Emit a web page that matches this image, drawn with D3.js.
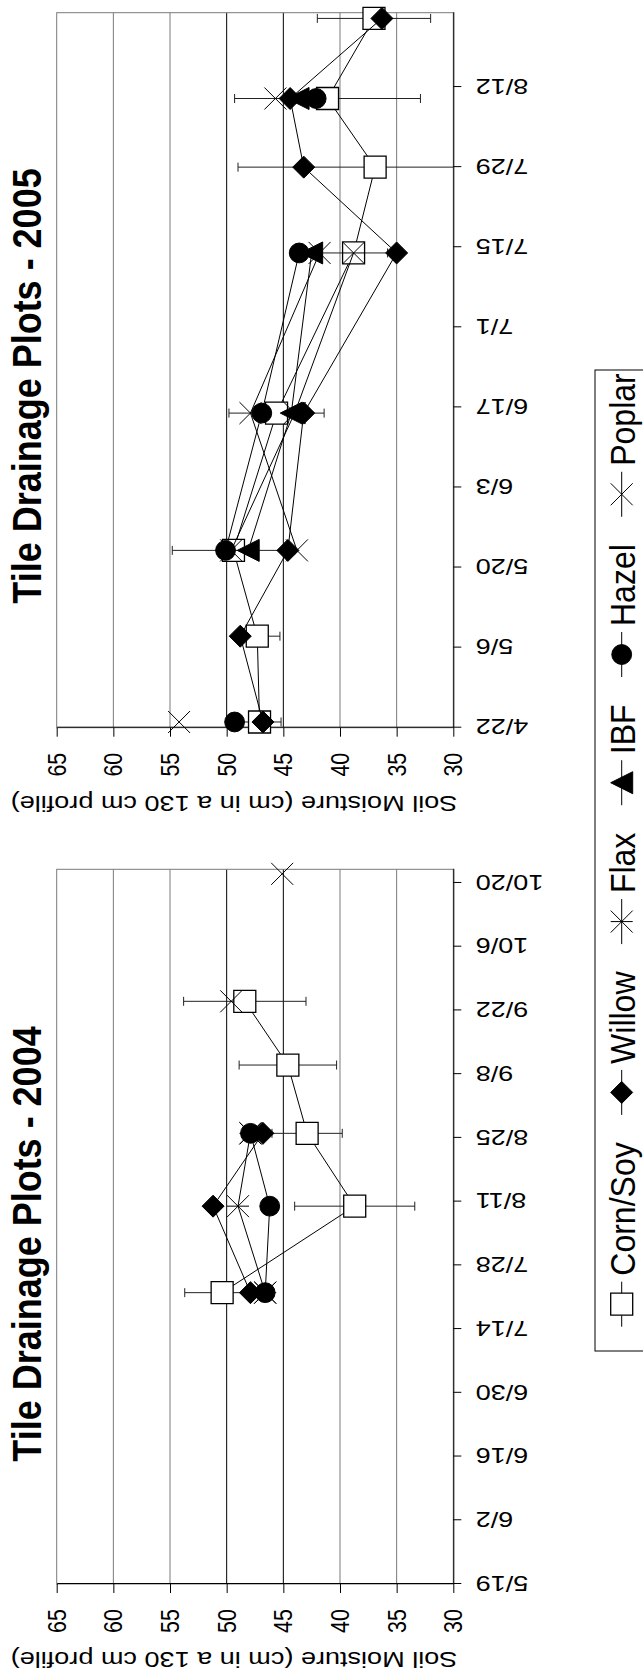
<!DOCTYPE html>
<html>
<head>
<meta charset="utf-8">
<script src="https://cdn.jsdelivr.net/npm/d3@7"></script>
<style>
  body { margin: 0; background: #fff; }
  svg { display: block; }
  text { font-family: "Liberation Sans", Arial, sans-serif; fill: #000; }
</style>
</head>
<body>
<svg id="chart" width="643" height="1676"></svg>
<script>
// ---- data (soil moisture, cm in a 130 cm profile) ----
// a row where every value is null breaks the lines, as blank rows do in the source sheet
const dates2004 = ["2004-07-22", "2004-08-10", "2004-08-26", "2004-09-10", "2004-09-24", "2004-10-08", "2004-10-22"];
const cornSoy2004 = [50.4, 38.7, 42.9, 44.6, 48.4, null, null];
const cornSoyErr2004 = [3.3, 5.3, 3.1, 4.3, 5.4, null, null];
const willow2004 = [47.9, 51.2, 46.8, null, null, null, null];
const flax2004 = [46.6, 49.0, 47.9, null, null, null, null];
const ibf2004 = [null, null, null, null, null, null, null];
const hazel2004 = [46.6, 46.2, 47.9, null, null, null, null];
const poplar2004 = [46.6, null, 47.9, null, 49.6, null, 45.1];

const dates2005 = ["2005-04-23", "2005-05-08", "2005-05-23", "2005-06-16", "2005-07-14", "2005-07-29", "2005-08-10", "2005-08-24"];
const cornSoy2005 = [47.1, 47.3, 49.4, 45.6, 38.8, 36.9, 41.1, 37.0];
const cornSoyErr2005 = [1.9, 2.0, 5.4, 4.2, 3.0, 12.1, 8.2, 5.0];
const willow2005 = [46.8, 48.8, 44.6, 43.2, 35.0, 43.2, 44.4, 36.3];
const flax2005 = [null, null, 49.6, 44.0, 38.8, null, null, null];
const ibf2005 = [null, null, 48.1, 44.3, 42.5, null, 43.7, null];
const hazel2005 = [49.3, null, 50.1, 46.9, 43.6, null, 42.1, null];
const poplar2005 = [54.2, null, 43.8, 47.9, 41.8, null, 45.7, null];

const seriesNames = ["Corn/Soy", "Willow", "Flax", "IBF", "Hazel", "Poplar"];
const seriesMarkers = ["square", "diamond", "asterisk", "triangle", "circle", "cross"];
const valueTicks = [30, 35, 40, 45, 50, 55, 60, 65];
const ticks2004 = ["5/19", "6/2", "6/16", "6/30", "7/14", "7/28", "8/11", "8/25", "9/8", "9/22", "10/6", "10/20"];
const ticks2005 = ["4/22", "5/6", "5/20", "6/3", "6/17", "7/1", "7/15", "7/29", "8/12"];

// the original chart is landscape; it is drawn in its own frame and turned a quarter left
const svg = d3.select("#chart");
const root = svg.append("g").attr("transform", "translate(0,1676) rotate(-90)");
const K = 1.23;          // the source chart was stretched vertically, text included
const parseDay = d3.timeParse("%Y-%m-%d");
const parseTick = (t, yr) => d3.timeParse("%m/%d/%Y")(t + "/" + yr);

const y = d3.scaleLinear().domain([30, 65]).range([453.3, 56.7]);

function markerPath(type, s) {
    const h = s / 2;
    switch (type) {
        case "square": return `M${-h},${-h}h${s}v${s}h${-s}Z`;
        case "diamond": return `M0,${-h}L${h},0L0,${h}L${-h},0Z`;
        case "triangle": return `M0,${-h}L${h},${h}L${-h},${h}Z`;
        case "circle": {
            const r = h * 0.9;
            return `M${-r},0a${r},${r} 0 1,0 ${2 * r},0a${r},${r} 0 1,0 ${-2 * r},0Z`;
        }
        case "cross": return `M${-h},${-h}L${h},${h}M${-h},${h}L${h},${-h}`;
        case "asterisk": return `M${-h},${-h}L${h},${h}M${-h},${h}L${h},${-h}M0,${-h}L0,${h}`;
    }
}
function styleMarker(sel, type) {
    const open = type === "cross" || type === "asterisk";
    sel.attr("d", markerPath(type, 22))
        .attr("fill", type === "square" ? "#fff" : (open ? "none" : "#000"))
        .attr("stroke", "#000")
        .attr("stroke-width", type === "square" ? 1.3 : 1);
}

const panels = [
    {
        title: "Tile Drainage Plots - 2004", year: 2004, dates: dates2004, ticks: ticks2004,
        domain: ["2004-05-19", "2004-10-23"], range: [92, 806.7], titleX: 432,
        series: [cornSoy2004, willow2004, flax2004, ibf2004, hazel2004, poplar2004], err: cornSoyErr2004
    },
    {
        title: "Tile Drainage Plots - 2005", year: 2005, dates: dates2005, ticks: ticks2005,
        domain: ["2005-04-22", "2005-08-25"], range: [948.3, 1663.3], titleX: 1290,
        series: [cornSoy2005, willow2005, flax2005, ibf2005, hazel2005, poplar2005], err: cornSoyErr2005
    }
];

panels.forEach((p, pi) => {
    const x = d3.scaleTime().domain(p.domain.map(parseDay)).range(p.range);
    const [x0, x1] = p.range;
    const g = root.append("g");

    // gridlines + plot frame
    g.append("g").selectAll("line").data(valueTicks.slice(1, -1)).join("line")
        .attr("x1", x0).attr("x2", x1)
        .attr("y1", d => y(d)).attr("y2", d => y(d))
        .attr("stroke", d => (d === 45 || d === 50) ? "#000" : "#7a7a7a")
        .attr("stroke-width", 1);
    g.append("rect")
        .attr("x", x0).attr("y", y(65))
        .attr("width", x1 - x0).attr("height", y(30) - y(65))
        .attr("fill", "none").attr("stroke", "#7a7a7a").attr("stroke-width", 1);

    // value axis
    const yAxis = g.append("g")
        .attr("transform", `translate(${x0},0)`)
        .call(d3.axisLeft(y).tickValues(valueTicks).tickSize(9).tickSizeOuter(0).tickPadding(16));
    yAxis.attr("font-size", 21.5).attr("font-family", null);
    yAxis.selectAll("path,line").attr("stroke", "#000");
    yAxis.selectAll("text").each(function () {
        const t = d3.select(this);
        const tx = +t.attr("x");
        t.attr("x", null).attr("transform", `translate(${tx},0) scale(1,${K})`);
    });

    // date axis
    const tickDates = p.ticks.map(t => parseTick(t, p.year));
    const xAxis = g.append("g")
        .attr("transform", `translate(0,${y(30)})`)
        .call(d3.axisBottom(x).tickValues(tickDates).tickFormat(d3.timeFormat("%-m/%-d"))
            .tickSize(8).tickSizeOuter(0));
    xAxis.attr("font-size", 22).attr("font-family", null);
    xAxis.selectAll("path,line").attr("stroke", "#000");
    xAxis.selectAll("text")
        .attr("y", null).attr("dy", "0.35em")
        .attr("text-anchor", "end")
        .attr("transform", `translate(0,22.4) scale(1,${K}) rotate(-90)`);

    // axis title
    g.append("text")
        .attr("transform", `translate(${x0 - 68},234) scale(1,${K}) rotate(-90)`)
        .attr("text-anchor", "middle")
        .attr("font-size", 22)
        .text("Soil Moisture (cm in a 130 cm profile)");

    // chart title
    g.append("text")
        .attr("transform", `translate(${p.titleX},41) scale(1,1.11)`)
        .attr("text-anchor", "middle")
        .attr("font-size", 36).attr("font-weight", "bold")
        .text(p.title);

    // error bars on Corn/Soy
    const clipId = "clip" + pi;
    g.append("clipPath").attr("id", clipId).append("rect")
        .attr("x", x0).attr("y", y(65)).attr("width", x1 - x0).attr("height", y(30) - y(65));
    const errRows = p.dates.map((d, i) => ({ date: parseDay(d), v: p.series[0][i], e: p.err[i] }))
        .filter(d => d.v != null && d.e != null);
    const eg = g.append("g").attr("clip-path", `url(#${clipId})`)
        .attr("stroke", "#222").attr("stroke-width", 1);
    errRows.forEach(d => {
        const cx = x(d.date);
        eg.append("line").attr("x1", cx).attr("x2", cx).attr("y1", y(d.v - d.e)).attr("y2", y(d.v + d.e));
        [d.v - d.e, d.v + d.e].forEach(v => {
            eg.append("line").attr("x1", cx - 4.5).attr("x2", cx + 4.5).attr("y1", y(v)).attr("y2", y(v));
        });
    });

    // series: line then markers, in legend order
    const line = d3.line().defined(d => d.v != null).x(d => x(d.date)).y(d => y(d.v));
    p.series.forEach((vals, si) => {
        const rows = p.dates.map((d, i) => ({ date: parseDay(d), v: vals[i] }));
        g.append("path").datum(rows)
            .attr("d", line).attr("fill", "none").attr("stroke", "#000").attr("stroke-width", 1);
        g.append("g").selectAll("path").data(rows.filter(d => d.v != null)).join("path")
            .attr("transform", d => `translate(${x(d.date)},${y(d.v)})`)
            .call(styleMarker, seriesMarkers[si]);
    });
});

// legend along the bottom of the original chart
const LF = 32, LK = 1.12;
const legend = root.append("g");
legend.append("rect")
    .attr("x", 325).attr("y", 595).attr("width", 981).attr("height", 120)
    .attr("fill", "none").attr("stroke", "#000").attr("stroke-width", 1);
const items = legend.selectAll("g.item").data(seriesNames).join("g").attr("class", "item");
items.append("line").attr("x1", 0).attr("x2", 45).attr("y1", 621.7).attr("y2", 621.7)
    .attr("stroke", "#000").attr("stroke-width", 1);
items.append("path").attr("transform", "translate(22.5,621.7)")
    .each(function (d, i) { d3.select(this).call(styleMarker, seriesMarkers[i]); });
const labels = items.append("text")
    .attr("font-size", LF)
    .attr("transform", `translate(51,635) scale(1,${LK})`)
    .text(d => d);
const widths = labels.nodes().map(n => n.getComputedTextLength());
const startX = 349.3, endX = 1302.7;
const used = d3.sum(widths) + seriesNames.length * 51;
const gap = (endX - startX - used) / (seriesNames.length - 1);
let cursor = startX;
items.each(function (d, i) {
    d3.select(this).attr("transform", `translate(${cursor},0)`);
    cursor += 51 + widths[i] + gap;
});
</script>
</body>
</html>
